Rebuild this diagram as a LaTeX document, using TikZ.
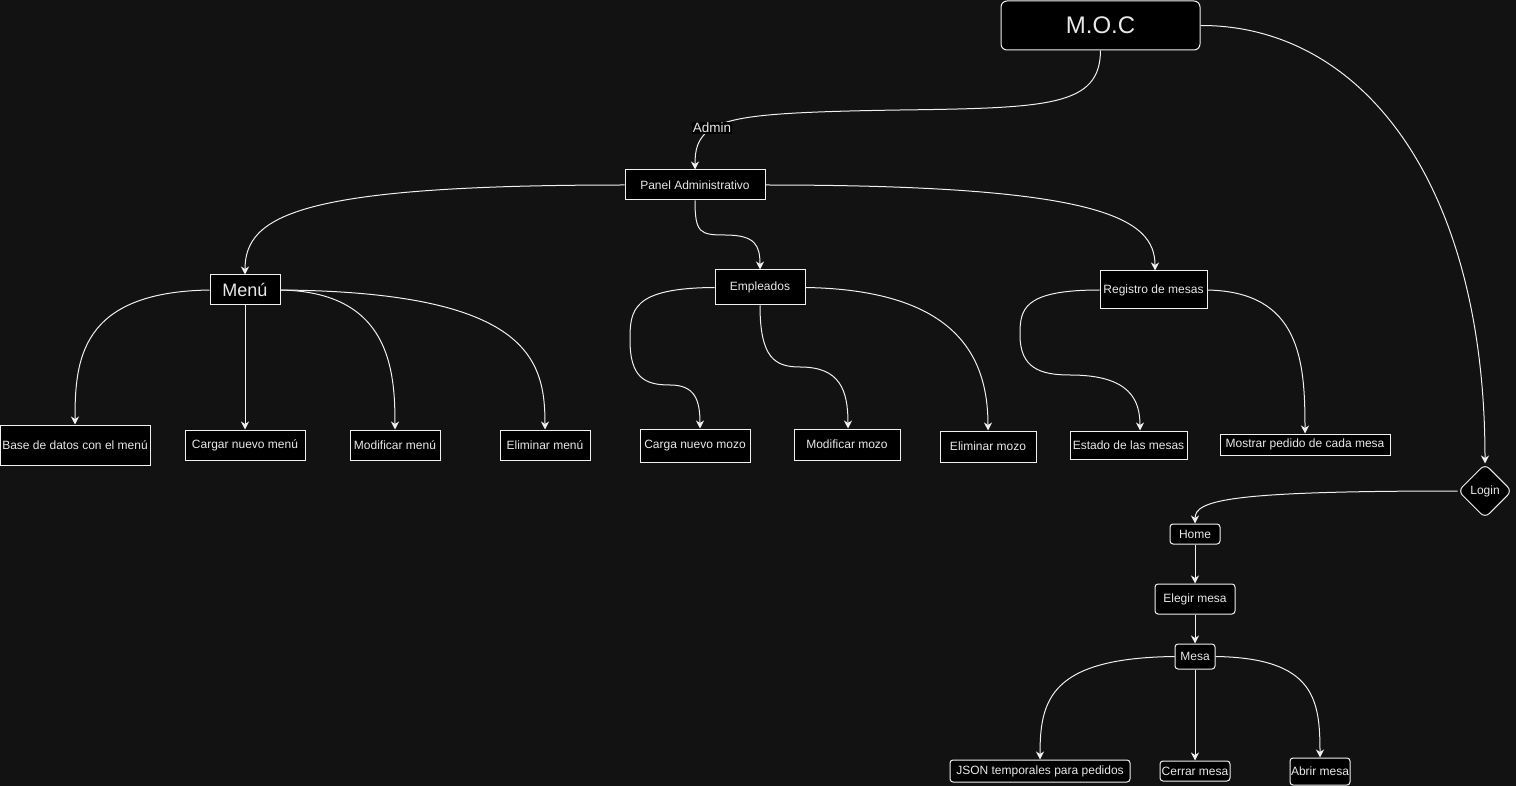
\documentclass[tikz,border=0pt]{standalone}
\usepackage{fontspec}
\setmainfont{Liberation Sans}
\usepackage{tikz}
\usetikzlibrary{shapes.geometric,arrows.meta}
\definecolor{bgc}{RGB}{18,18,18}
\definecolor{lnc}{RGB}{240,240,240}
\definecolor{txc}{RGB}{232,232,232}
\tikzset{
box/.style={draw=lnc,fill=black,text=txc,inner sep=0pt,line width=1pt,font=\fontsize{12}{14}\selectfont},
rbox/.style={box,rounded corners=3pt},
conn/.style={draw=lnc,line width=1pt,-{Stealth[length=8pt,width=8pt,inset=2.5pt]}},
lbl/.style={fill=black,text=txc,inner sep=1pt,font=\fontsize{13.5}{15}\selectfont}
}
\begin{document}
\begin{tikzpicture}[x=1pt,y=-1pt]
\fill[bgc] (0,0) rectangle (1516,786);
\useasboundingbox (0,0) rectangle (1516,786);
% top
\node[box,rounded corners=6pt,minimum width=199pt,minimum height=49pt,font=\fontsize{24}{28}\selectfont] (moc) at (1100.5,25.5) {M.O.C};
\node[box,minimum width=140pt,minimum height=30pt] (panel) at (695,185) {Panel Administrativo};
\node[box,shape=diamond,aspect=1,rounded corners=6pt,minimum width=54pt,minimum height=54pt] (login) at (1485,491) {Login};
% admin panel branches
\node[box,minimum width=70pt,minimum height=30pt,font=\fontsize{18}{21}\selectfont] (menu) at (245,290) {Menú};
\node[box,minimum width=90pt,minimum height=35pt] (emp) at (760,287.5) {Empleados};
\node[box,minimum width=107pt,minimum height=38pt] (reg) at (1153.5,290) {Registro de mesas};
\node[box,minimum width=150pt,minimum height=40pt] (base) at (75,445) {Base de datos con el menú};
\node[box,minimum width=120pt,minimum height=30pt] (cargar) at (245,445) {Cargar nuevo menú};
\node[box,minimum width=90pt,minimum height=30pt] (modmenu) at (395,445) {Modificar menú};
\node[box,minimum width=90pt,minimum height=30pt] (elimmenu) at (545,445) {Eliminar menú};
\node[box,minimum width=110pt,minimum height=33pt] (carga) at (695,445.5) {Carga nuevo mozo};
\node[box,minimum width=106pt,minimum height=31pt] (modmozo) at (847,444.5) {Modificar mozo};
\node[box,minimum width=96pt,minimum height=31pt] (elimmozo) at (988,446.5) {Eliminar mozo};
\node[box,minimum width=117pt,minimum height=28pt] (estado) at (1128.5,445) {Estado de las mesas};
\node[box,minimum width=170pt,minimum height=21pt] (mostrar) at (1305,444.5) {Mostrar pedido de cada mesa};
% login branch
\node[rbox,minimum width=50pt,minimum height=20pt] (home) at (1195,534) {Home};
\node[rbox,minimum width=80pt,minimum height=30pt] (elegir) at (1195,599) {Elegir mesa};
\node[rbox,minimum width=40pt,minimum height=25pt] (mesa) at (1195,656.5) {Mesa};
\node[rbox,minimum width=180pt,minimum height=22pt] (json) at (1040,771) {JSON temporales para pedidos};
\node[rbox,minimum width=70pt,minimum height=20pt] (cerrar) at (1195,771) {Cerrar mesa};
\node[rbox,minimum width=60pt,minimum height=27pt] (abrir) at (1320,771.5) {Abrir mesa};
% connectors
\draw[conn] (moc.south) .. controls (1100,106) and (1050,108) .. (900,110) .. controls (770,112) and (735,116) .. (712,128) node[lbl] (admin) {Admin} .. controls (697,138) and (695,150) .. (panel.north);
\draw[conn] (moc.east) .. controls (1360,25) and (1485,180) .. (login.north);
\draw[conn] (panel.west) .. controls (300,185) and (245,215) .. (menu.north);
\draw[conn] (panel.south) .. controls (695,233) and (700,235) .. (725,235) .. controls (755,235) and (760,245) .. (emp.north);
\draw[conn] (panel.east) .. controls (1100,185) and (1155,218) .. ([xshift=1.5pt]reg.north);
\draw[conn] (menu.west) .. controls (80,292) and (75,360) .. (base.north);
\draw[conn] (menu.south) -- (cargar.north);
\draw[conn] (menu.east) .. controls (390,292) and (395,370) .. (modmenu.north);
\draw[conn] (menu.east) .. controls (530,292) and (545,360) .. (elimmenu.north);
\draw[conn] (emp.west) .. controls (632,288) and (630,310) .. (630,340) .. controls (630,378) and (645,385) .. (670,385) .. controls (695,385) and (700,400) .. ([xshift=5pt]carga.north);
\draw[conn] (emp.south) .. controls (760,358) and (775,367) .. (800,367) .. controls (840,367) and (848,390) .. ([xshift=1pt]modmozo.north);
\draw[conn] (emp.east) .. controls (960,290) and (988,360) .. (elimmozo.north);
\draw[conn] (reg.west) .. controls (1022,290) and (1020,310) .. (1020,335) .. controls (1020,368) and (1040,375) .. (1070,375) .. controls (1130,375) and (1140,400) .. ([xshift=11.5pt]estado.north);
\draw[conn] (reg.east) .. controls (1300,292) and (1305,360) .. (mostrar.north);
\draw[conn] (login.west) .. controls (1230,491) and (1195,500) .. (home.north);
\draw[conn] (home.south) -- (elegir.north);
\draw[conn] (elegir.south) -- (mesa.north);
\draw[conn] (mesa.west) .. controls (1050,658) and (1040,700) .. (json.north);
\draw[conn] (mesa.south) -- (cerrar.north);
\draw[conn] (mesa.east) .. controls (1315,658) and (1320,700) .. (abrir.north);
\end{tikzpicture}
\end{document}
